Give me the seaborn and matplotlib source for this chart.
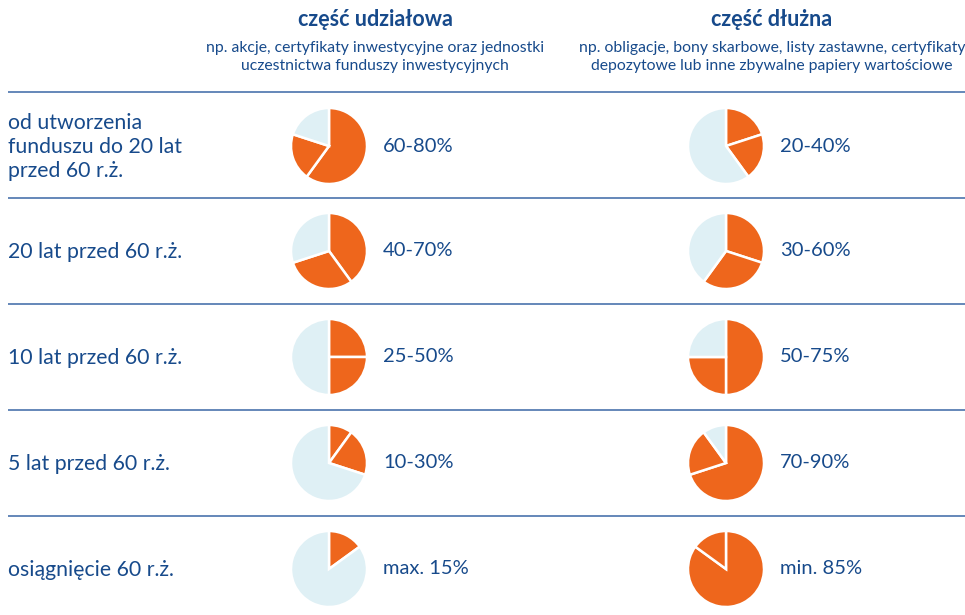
import matplotlib
matplotlib.use("Agg")
import matplotlib.pyplot as plt
import seaborn as sns

sns.set_theme(style="white")
plt.rcParams['font.family'] = ['Lato', 'DejaVu Sans']

# ---- data ----
rows = ["od utworzenia\nfunduszu do 20 lat\nprzed 60 r.ż.",
        "20 lat przed 60 r.ż.",
        "10 lat przed 60 r.ż.",
        "5 lat przed 60 r.ż.",
        "osiągnięcie 60 r.ż."]
equity_min = [60, 40, 25, 10, 0]
equity_max = [80, 70, 50, 30, 15]
equity_labels = ["60-80%", "40-70%", "25-50%", "10-30%", "max. 15%"]
debt_min = [20, 30, 50, 70, 85]
debt_max = [40, 60, 75, 90, 100]
debt_labels = ["20-40%", "30-60%", "50-75%", "70-90%", "min. 85%"]

col_titles = ["część udziałowa", "część dłużna"]
col_subtitles = ["np. akcje, certyfikaty inwestycyjne oraz jednostki\nuczestnictwa funduszy inwestycyjnych",
                 "np. obligacje, bony skarbowe, listy zastawne, certyfikaty\ndepozytowe lub inne zbywalne papiery wartościowe"]

ORANGE = "#EE661C"
LIGHT = "#DFF0F5"
TEXT = "#174A8B"
LINE = "#3A67A6"

W, H = 965, 615
fig = plt.figure(figsize=(W / 100, H / 100), dpi=100)
ax = fig.add_axes([0, 0, 1, 1])

def Y(py):
    return H - py

row_y = [146, 251, 357, 463, 569]
line_y = [92, 198, 304, 410, 516]
pie_x = [329, 726]
lab_x = [383, 780]
R = 38

for ly in line_y:
    ax.plot([8, W], [Y(ly), Y(ly)], color=LINE, lw=1.1, solid_capstyle="butt")

for i, label in enumerate(rows):
    ax.text(8, Y(row_y[i] + 1), label, ha="left", va="center", color=TEXT,
            fontsize=15.3, linespacing=1.22)

for c, (mins, maxs, labs) in enumerate([(equity_min, equity_max, equity_labels),
                                         (debt_min, debt_max, debt_labels)]):
    for i in range(len(rows)):
        a, b = mins[i], maxs[i] - mins[i]
        rest = 100 - maxs[i]
        vals, cols = [], []
        for v, col in [(a, ORANGE), (b, ORANGE), (rest, LIGHT)]:
            if v > 0:
                vals.append(v)
                cols.append(col)
        ax.pie(vals, colors=cols, startangle=90, counterclock=False,
               center=(pie_x[c], Y(row_y[i])), radius=R,
               wedgeprops=dict(edgecolor="white", linewidth=1.8))
        ax.text(lab_x[c], Y(row_y[i]), labs[i], ha="left", va="center",
                color=TEXT, fontsize=14.5)

hx = [375, 772]
for c in range(2):
    ax.text(hx[c], Y(20), col_titles[c], ha="center", va="center",
            color=TEXT, fontsize=15.5, fontweight="bold")
    ax.text(hx[c], Y(57), col_subtitles[c], ha="center", va="center",
            color=TEXT, fontsize=11.3, linespacing=1.38)

ax.set_xlim(0, W)
ax.set_ylim(0, H)
ax.set_aspect("auto")
ax.axis("off")
fig.savefig("out.png", dpi=100, facecolor="white")
